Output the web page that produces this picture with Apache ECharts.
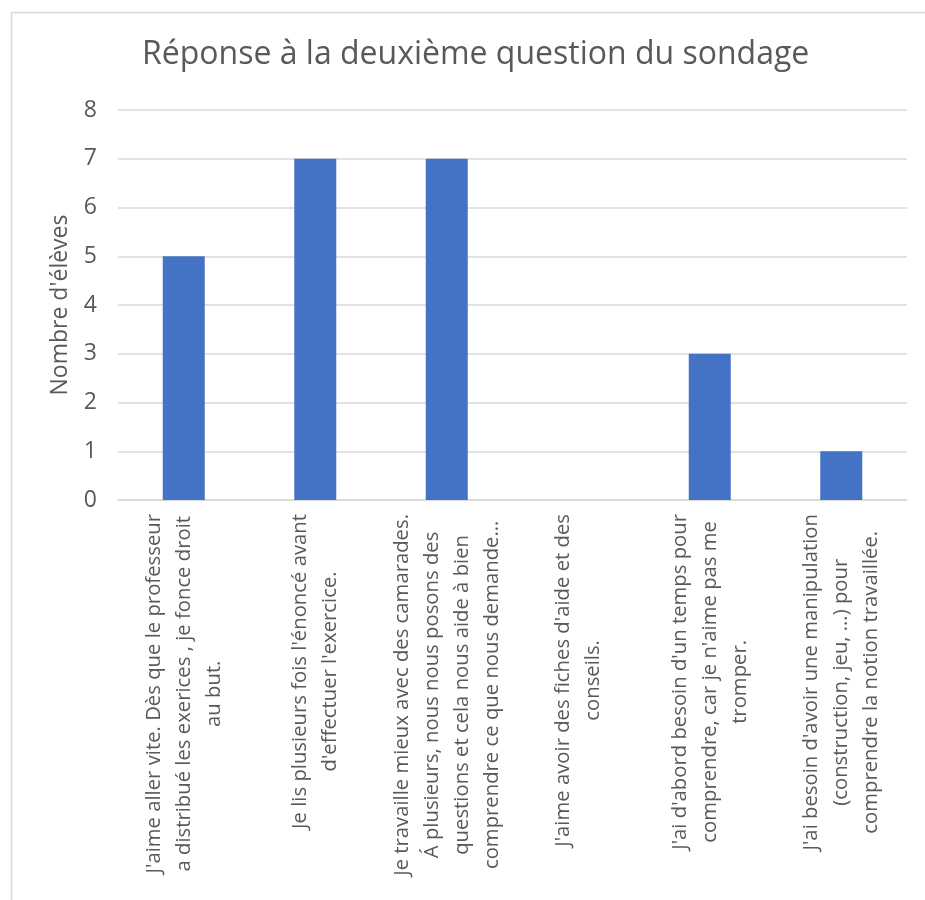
<!DOCTYPE html>
<html>
<head>
<meta charset="utf-8">
<script src="https://cdn.jsdelivr.net/npm/echarts@6/dist/echarts.min.js"></script>
<style>
html,body{margin:0;padding:0;background:#fff;}
#chart{width:925px;height:900px;}
</style>
</head>
<body>
<div id="chart"></div>
<script>
const title = "Réponse à la deuxième question du sondage";
const yAxisName = "Nombre d'élèves";
const categories = [
  "J'aime aller vite. Dès que le professeur\na distribué les exerices , je fonce droit\nau but.",
  "Je lis plusieurs fois l'énoncé avant\nd'effectuer l'exercice.",
  "Je travaille mieux avec des camarades.\nÁ plusieurs, nous nous posons des\nquestions et cela nous aide à bien\ncomprendre ce que nous demande…",
  "J'aime avoir des fiches d'aide et des\nconseils.",
  "J'ai d'abord besoin d'un temps pour\ncomprendre, car je n'aime pas me\ntromper.",
  "J'ai besoin d'avoir une manipulation\n(construction, jeu, …) pour\ncomprendre la notion travaillée."
];
const values = [5, 7, 7, 0, 3, 1];
const yTicks = [0, 1, 2, 3, 4, 5, 6, 7, 8];

const font = "'Open Sans', sans-serif";
const chart = echarts.init(document.getElementById('chart'));
chart.setOption({
  animation: false,
  backgroundColor: '#fff',
  graphic: [{
    type: 'rect', left: 9, top: 10,
    shape: {width: 940, height: 920},
    style: {fill: 'none', stroke: '#D9D9D9', lineWidth: 1.5},
    silent: true
  }],
  title: {
    text: title, left: 137, top: 34,
    textStyle: {fontFamily: font, fontSize: 32, fontWeight: 'normal', color: '#595959'}
  },
  grid: {left: 118, right: 18, top: 110, bottom: 400, containLabel: false},
  xAxis: {
    type: 'category', data: categories,
    axisLine: {lineStyle: {color: '#D9D9D9', width: 1.5}},
    axisTick: {show: false},
    axisLabel: {
      interval: 0, rotate: 90, margin: 14,
      fontFamily: font, fontSize: 20.3, color: '#595959', lineHeight: 30,
      formatter: function (v) {
        return v.split('\n').map(function (s) { return '{c|' + s + '}'; }).join('\n');
      },
      rich: {c: {align: 'center', fontFamily: font, fontSize: 20.3, color: '#595959', lineHeight: 30}}
    }
  },
  yAxis: {
    type: 'value', min: yTicks[0], max: yTicks[yTicks.length - 1], interval: 1,
    name: yAxisName, nameLocation: 'middle', nameGap: 46, nameRotate: 90,
    nameTextStyle: {fontFamily: font, fontSize: 23, color: '#595959'},
    axisLine: {show: false}, axisTick: {show: false},
    axisLabel: {fontFamily: font, fontSize: 23, color: '#595959', margin: 21},
    splitLine: {lineStyle: {color: '#D9D9D9', width: 1.5}}
  },
  series: [{
    type: 'bar', data: values, barWidth: 42,
    itemStyle: {color: '#4472C4'}
  }]
});
</script>
</body>
</html>
